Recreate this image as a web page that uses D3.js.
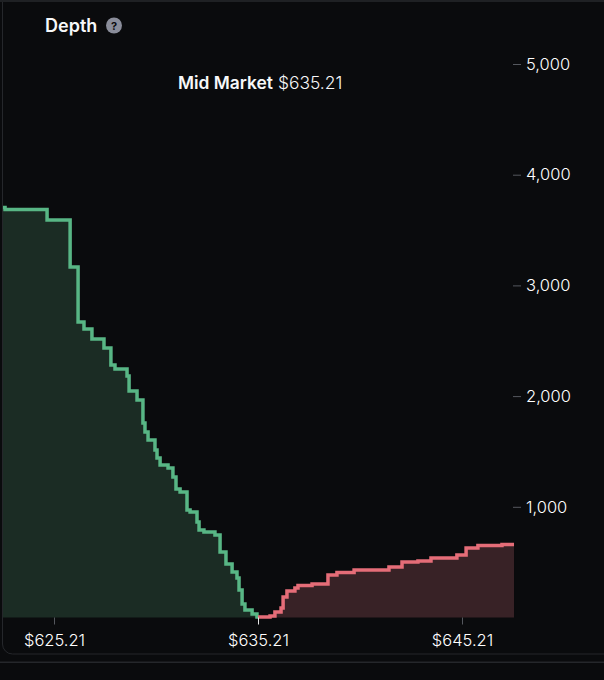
<!DOCTYPE html>
<html><head><meta charset="utf-8">
<script src="https://cdnjs.cloudflare.com/ajax/libs/d3/7.8.5/d3.min.js"></script>
<style>html,body{margin:0;padding:0;background:#0a0b0d}svg{display:block}text{font-family:Inter,sans-serif}</style>
</head><body><svg id="c" width="604" height="680"></svg>
<script>
const bidPrices=[622.71,622.81,624.87,626.0,626.39,626.68,627.07,627.66,628.0,628.2,628.79,628.89,629.28,629.57,629.67,629.82,630.16,630.26,630.41,630.8,631.04,631.19,631.39,631.73,631.88,632.22,632.32,632.56,633.1,633.35,633.64,633.94,634.18,634.28,634.43,634.57,634.92,635.16,635.21];
const bidDepths=[3704,3686,3591,3166,2669,2606,2516,2434,2281,2245,2182,2046,1965,1757,1676,1603,1513,1441,1378,1350,1269,1161,1134,971,953,863,790,772,745,592,483,411,357,248,122,68,32,5,5];
const askPrices=[635.21,635.8,636.04,636.34,636.44,636.63,637.02,637.17,637.86,638.64,639.08,639.92,641.63,642.27,643.05,643.69,644.96,645.41,645.99,647.17,647.76];
const askDepths=[5,14,50,86,185,239,266,289,303,384,407,429,456,501,510,537,565,628,650,659,659];
const priceTicks=[625.21,635.21,645.21];
const depthTicks=[1000,2000,3000,4000,5000];
const midPrice=635.21;

const svg=d3.select("#c");
const x=d3.scaleLinear().domain([625.21,645.21]).range([54,462]);
const y=d3.scaleLinear().domain([0,5000]).range([617.5,64]);

// card frame
svg.append("rect").attr("x",0).attr("y",0).attr("width",604).attr("height",2).attr("fill","#1f2124");
svg.append("path").attr("d","M2.5,2V644a10,10 0 0 0 10,10H604").attr("fill","none").attr("stroke","#25272b").attr("stroke-width",1);
svg.append("rect").attr("x",0).attr("y",661.5).attr("width",604).attr("height",1.5).attr("fill","#25272b");

const zip=(p,d)=>p.map((v,i)=>[v,d[i]]);
const area=d3.area().x(d=>x(d[0])).y0(y(0)).y1(d=>y(d[1])).curve(d3.curveStepAfter);
const line=d3.line().x(d=>x(d[0])).y(d=>y(d[1])).curve(d3.curveStepAfter);
const bids=zip(bidPrices,bidDepths), asks=zip(askPrices,askDepths);

svg.append("path").attr("d",area(bids)).attr("fill","#1b2c24");
svg.append("path").attr("d",area(asks)).attr("fill","#382226");
svg.append("path").attr("d",line(bids)).attr("fill","none").attr("stroke","#58b685").attr("stroke-width",3.5);
svg.append("path").attr("d",line(asks)).attr("fill","none").attr("stroke","#e56d78").attr("stroke-width",3.5);

// x axis
const xAxis=d3.axisBottom(x).tickValues(priceTicks).tickSize(7).tickPadding(6).tickFormat(d=>"$"+d.toFixed(2));
const gx=svg.append("g").attr("transform",`translate(0,${y(0)})`).call(xAxis);
gx.select(".domain").remove();
gx.selectAll("line").attr("stroke",d=>d===midPrice?"#e8e8e8":"#55585e");
gx.selectAll("text").attr("fill","#ffffff").attr("font-size",16.5).attr("font-weight",300).attr("dy","0.92em");

// y axis
const yAxis=d3.axisRight(y).tickValues(depthTicks).tickSize(8).tickPadding(5).tickFormat(d3.format(","));
const gy=svg.append("g").attr("transform","translate(513,0)").call(yAxis);
gy.select(".domain").remove();
gy.selectAll("line").attr("stroke","#55585e");
gy.selectAll("text").attr("fill","#ffffff").attr("font-size",16.5).attr("font-weight",300);

// title
svg.append("text").attr("x",45).attr("y",32).attr("fill","#f7f8f9").attr("font-size",18).attr("font-weight",600).text("Depth");
svg.append("circle").attr("cx",114).attr("cy",25.5).attr("r",8).attr("fill","#8a8d9a");
svg.append("text").attr("x",114).attr("y",29.5).attr("text-anchor","middle").attr("fill","#0a0b0d").attr("font-size",11).attr("font-weight",700).text("?");

// mid market
const mid=svg.append("text").attr("x",178).attr("y",89).attr("fill","#f7f8f9").attr("font-size",17.4);
mid.append("tspan").attr("font-weight",600).text("Mid Market");
mid.append("tspan").attr("dx",5).attr("font-weight",300).text("$"+midPrice.toFixed(2));
</script></body></html>
